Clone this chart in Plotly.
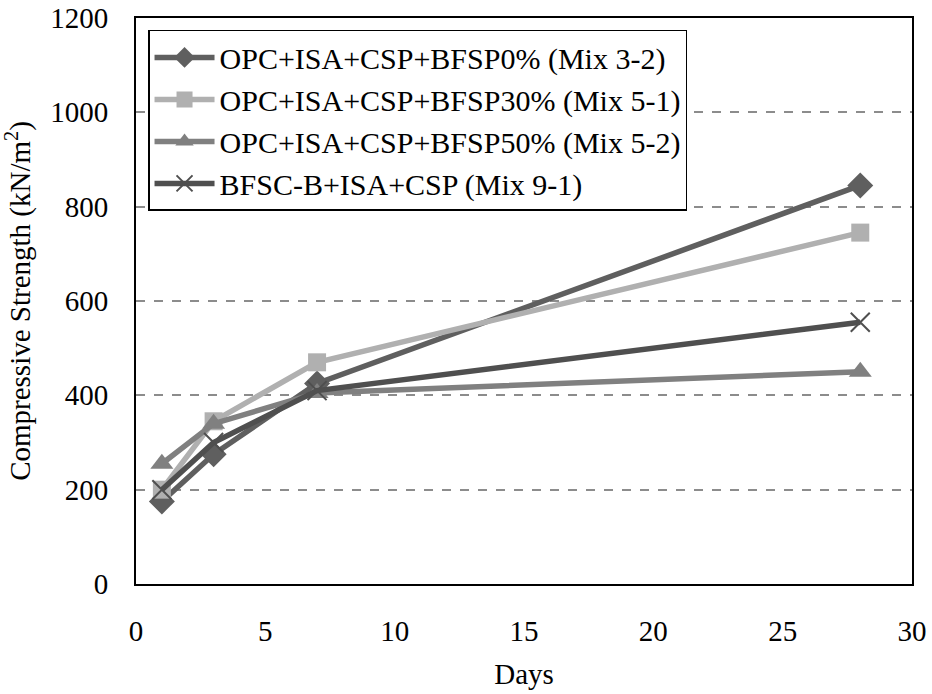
import plotly.graph_objects as go

# Curing age (days) and compressive strength (kN/m2) per mix
days = [1, 3, 7, 28]
mix_3_2 = [175, 275, 425, 845]
mix_5_1 = [200, 345, 470, 745]
mix_5_2 = [255, 340, 405, 450]
mix_9_1 = [200, 300, 410, 555]

names = [
    "OPC+ISA+CSP+BFSP0% (Mix 3-2)",
    "OPC+ISA+CSP+BFSP30% (Mix 5-1)",
    "OPC+ISA+CSP+BFSP50% (Mix 5-2)",
    "BFSC-B+ISA+CSP (Mix 9-1)",
]

x_ticks = [0, 5, 10, 15, 20, 25, 30]
y_ticks = [0, 200, 400, 600, 800, 1000, 1200]

FONT = "Times New Roman"

fig = go.Figure()

fig.add_trace(go.Scatter(
    x=days, y=mix_3_2, name=names[0], mode="lines+markers",
    line=dict(color="#5f5f5f", width=5.5),
    marker=dict(symbol="diamond", size=20, color="#5f5f5f"),
))
fig.add_trace(go.Scatter(
    x=days, y=mix_5_1, name=names[1], mode="lines+markers",
    line=dict(color="#b0b0b0", width=5.5),
    marker=dict(symbol="square", size=18, color="#b0b0b0"),
))
fig.add_trace(go.Scatter(
    x=days, y=mix_5_2, name=names[2], mode="lines+markers",
    line=dict(color="#808080", width=5.5),
    marker=dict(symbol="triangle-up", size=20, color="#808080"),
))
fig.add_trace(go.Scatter(
    x=days, y=mix_9_1, name=names[3], mode="lines+markers",
    line=dict(color="#4f4f4f", width=5.5),
    marker=dict(symbol="x-thin", size=19, color="#4f4f4f",
                line=dict(color="#4f4f4f", width=2)),
))

fig.update_layout(
    width=932, height=694,
    margin=dict(l=136, r=20, t=18, b=110, autoexpand=False),
    paper_bgcolor="white", plot_bgcolor="white",
    font=dict(family=FONT, size=29, color="black"),
    showlegend=True,
    legend=dict(
        x=0.0155, y=0.979, xanchor="left", yanchor="top",
        bgcolor="white", bordercolor="black", borderwidth=1.5,
        font=dict(family=FONT, size=30, color="black"),
        tracegroupgap=0, itemwidth=60,
    ),
)

fig.update_xaxes(
    range=[0, 30], tickvals=x_ticks, ticktext=[str(v) for v in x_ticks],
    showgrid=False, zeroline=False, automargin=False,
    showline=True, linecolor="black", linewidth=2, mirror=True,
    ticks="", ticklabelstandoff=20,
    tickfont=dict(family=FONT, size=29),
    title=dict(text="Days", font=dict(family=FONT, size=29), standoff=18),
)
fig.update_yaxes(
    range=[0, 1200], tickvals=y_ticks, ticktext=[str(v) for v in y_ticks],
    showgrid=True, gridcolor="#8c8c8c", griddash="dash", gridwidth=1.5,
    zeroline=False, automargin=False,
    showline=True, linecolor="black", linewidth=2, mirror=True,
    ticks="", ticklabelstandoff=20,
    tickfont=dict(family=FONT, size=29),
    title=dict(text="Compressive Strength (kN/m<sup>2</sup>)",
               font=dict(family=FONT, size=29), standoff=14),
)

fig.write_html("out.html")
